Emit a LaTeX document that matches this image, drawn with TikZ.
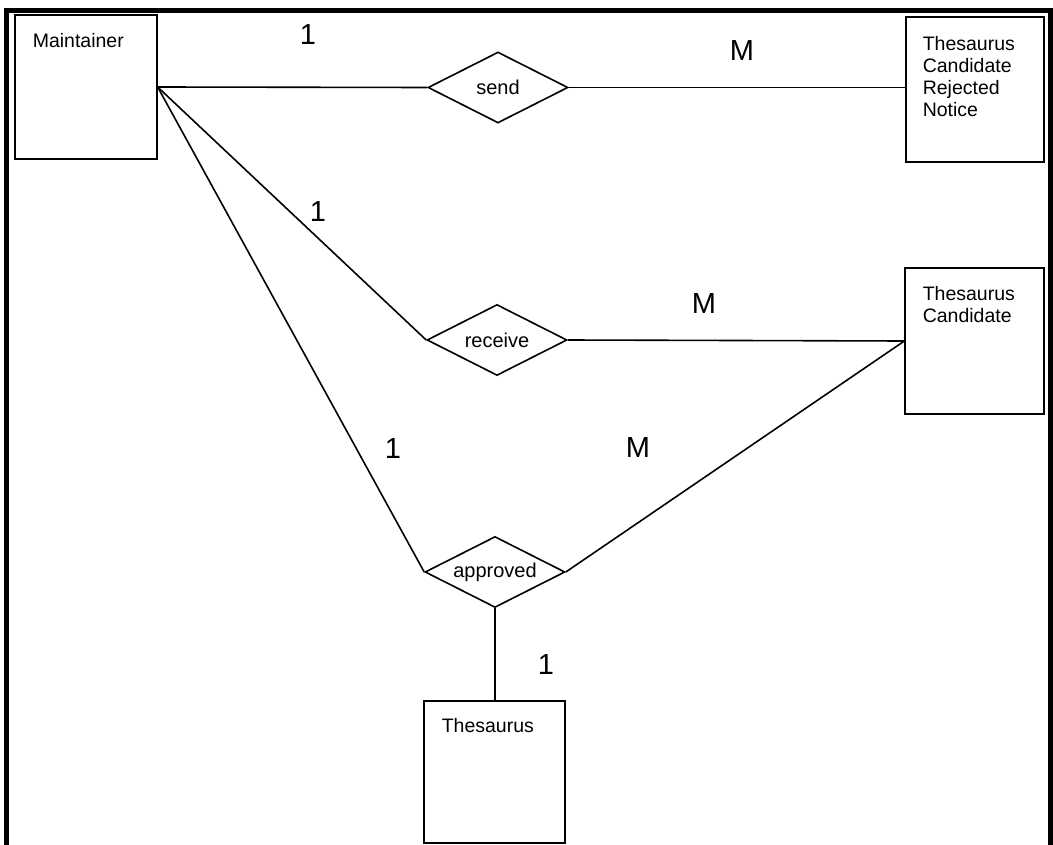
\documentclass[tikz,border=0pt]{standalone}
\usepackage{fontspec}
\setmainfont{Liberation Sans}
\usetikzlibrary{shapes.geometric}
\tikzset{
entity/.style={draw,line width=1.3pt,inner sep=0pt},
relation/.style={draw,diamond,aspect=2,line width=1.6pt,inner sep=0pt,minimum width=140pt,minimum height=71pt,font=\fontsize{20}{22}\selectfont},
etext/.style={anchor=north west,align=left,inner sep=0pt,font=\fontsize{19.5}{21.7}\selectfont},
card/.style={font=\fontsize{29}{32}\selectfont}
}
\begin{document}
\begin{tikzpicture}[x=1pt,y=-1pt,line width=1.6pt]
\useasboundingbox (0,0) rectangle (1053,845);
%frame
\draw[line width=5pt](6,845)--(6,11)--(1050,11)--(1050,845);
%entities
\node[entity,minimum width=142pt,minimum height=144pt](maintainer)at(86,87){};
\node[etext]at(32,33){Maintainer};
\node[entity,minimum width=138pt,minimum height=145pt](notice)at(975,89.5){};
\node[etext]at(922,36){Thesaurus\\Candidate\\Rejected\\Notice};
\node[entity,minimum width=139pt,minimum height=146pt](candidate)at(974.5,341){};
\node[etext]at(922,286){Thesaurus\\Candidate};
\node[entity,minimum width=141pt,minimum height=142pt](thesaurus)at(494.5,772){};
\node[etext]at(441,718){Thesaurus};
%relations
\node[relation](send)at(498,87.5){send};
\node[relation](receive)at(497,340){receive};
\node[relation](approved)at(495,572){approved};
%connectors
\draw(maintainer.east)--(send.west);
\draw(send.east)--(send.east-|notice.west);
\draw(maintainer.east)--(receive.west);
\draw(receive.east)--(candidate.west);
\draw(maintainer.east)--(approved.west);
\draw(approved.east)--(candidate.west);
\draw(approved.south)--(approved.south|-thesaurus.north);
%cardinalities
\node[card]at(308,35){1};
\node[card]at(742,51){M};
\node[card]at(318,212){1};
\node[card]at(704,304){M};
\node[card]at(393,449){1};
\node[card]at(638,448){M};
\node[card]at(546,665){1};
\end{tikzpicture}
\end{document}
